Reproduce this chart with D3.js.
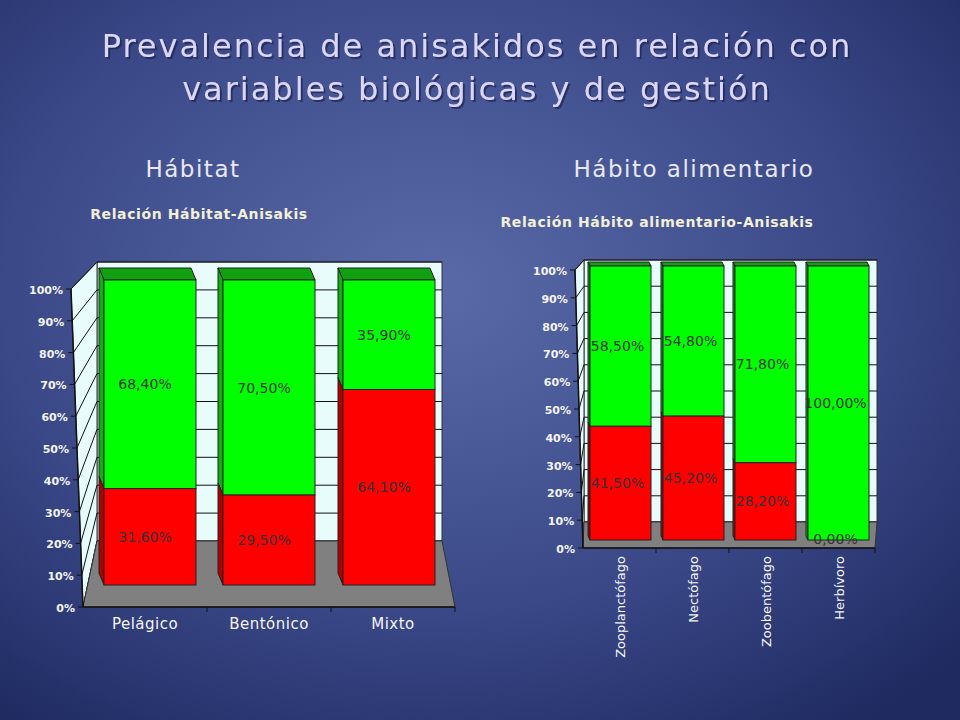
<!DOCTYPE html>
<html><head><meta charset="utf-8">
<script src="https://cdn.jsdelivr.net/npm/d3@7"></script>
<style>body{margin:0;background:#2e3b78}</style></head>
<body><svg id="c" width="960" height="720"></svg>
<script>
const habitatCats = ["Pelágico","Bentónico","Mixto"];
const habitatRed = [31.6, 29.5, 64.1];
const habitatGreen = [68.4, 70.5, 35.9];
const habitoCats = ["Zooplanctófago","Nectófago","Zoobentófago","Herbívoro"];
const habitoRed = [41.5, 45.2, 28.2, 0];
const habitoGreen = [58.5, 54.8, 71.8, 100];
const tickValues = [0,10,20,30,40,50,60,70,80,90,100];

const svg = d3.select("#c");
const defs = svg.append("defs");
const g = defs.append("radialGradient").attr("id","bg").attr("cx","45%").attr("cy","40%").attr("r","75%");
g.append("stop").attr("offset","0%").attr("stop-color","#5a6aa8");
g.append("stop").attr("offset","60%").attr("stop-color","#3a4888");
g.append("stop").attr("offset","100%").attr("stop-color","#1e2a60");
const sh = defs.append("filter").attr("id","sh").attr("x","-5%").attr("y","-20%").attr("width","110%").attr("height","140%");
sh.append("feDropShadow").attr("dx",2).attr("dy",2).attr("stdDeviation",0.5).attr("flood-color","#1a2050").attr("flood-opacity",0.7);
svg.append("rect").attr("width",960).attr("height",720).attr("fill","url(#bg)");

const titleFont = "DejaVu Sans, Verdana, sans-serif";
[["Prevalencia de anisakidos en relación con",57],["variables biológicas y de gestión",100]].forEach(([t,y])=>{
  svg.append("text").attr("x",477).attr("y",y).attr("text-anchor","middle").attr("fill","#dcd6fa").attr("filter","url(#sh)")
    .style("font-family",titleFont).style("font-size","32px").style("letter-spacing","2px").text(t);
});
svg.append("text").attr("x",193).attr("y",177).attr("text-anchor","middle").attr("fill","#e8e8f4")
  .style("font-family",titleFont).style("font-size","23px").style("letter-spacing","1.5px").text("Hábitat");
svg.append("text").attr("x",694).attr("y",177).attr("text-anchor","middle").attr("fill","#e8e8f4")
  .style("font-family",titleFont).style("font-size","23px").style("letter-spacing","1.5px").text("Hábito alimentario");

function chart(o){
  const G = svg.append("g");
  G.append("text").attr("x",o.titleX).attr("y",o.titleY).attr("text-anchor","middle").attr("fill","#f2f0d8")
    .style("font-family","DejaVu Sans, sans-serif").style("font-weight","bold").style("font-size","14px").style("letter-spacing","0.6px").text(o.title);
  const yBack = d3.scaleLinear().domain([0,100]).range([o.backBottom,o.backTop]);
  const yFront = d3.scaleLinear().domain([0,100]).range([o.frontBottom,o.frontTop]);
  const yBar = d3.scaleLinear().domain([0,100]).range([o.barBottom,o.barTop]);
  G.append("rect").attr("x",o.bx0).attr("y",o.backTop).attr("width",o.bx1-o.bx0).attr("height",o.backBottom-o.backTop)
    .attr("fill","#e8fcfc").attr("stroke","#333");
  G.append("path").attr("d",`M${o.fx0},${o.frontBottom}L${o.fx0t},${o.frontTop}L${o.bx0},${o.backTop}L${o.bx0},${o.backBottom}Z`)
    .attr("fill","#e8fcfc").attr("stroke","#333");
  tickValues.forEach(t=>{
    G.append("line").attr("x1",o.bx0).attr("x2",o.bx1).attr("y1",yBack(t)).attr("y2",yBack(t)).attr("stroke","#111");
    const fx = o.fx0 + (o.fx0t-o.fx0)*t/100;
    G.append("line").attr("x1",fx).attr("y1",yFront(t)).attr("x2",o.bx0).attr("y2",yBack(t)).attr("stroke","#111");
    G.append("line").attr("x1",fx-5).attr("y1",yFront(t)).attr("x2",fx).attr("y2",yFront(t)).attr("stroke","#111");
    G.append("text").attr("x",fx-8).attr("y",yFront(t)+5).attr("text-anchor","end").attr("fill","#f4f4f4")
      .style("font-family","DejaVu Sans, sans-serif").style("font-weight","bold").style("font-size","11px").text(t+"%");
  });
  G.append("path").attr("d",`M${o.fx0},${o.frontBottom}L${o.fx1},${o.frontBottom}L${o.bx1},${o.backBottom}L${o.bx0},${o.backBottom}Z`)
    .attr("fill","#808080").attr("stroke","#333");
  G.append("line").attr("x1",o.fx0).attr("x2",o.fx1).attr("y1",o.frontBottom).attr("y2",o.frontBottom).attr("stroke","#111").attr("stroke-width",1.5);
  G.append("line").attr("x1",o.fx0).attr("x2",o.fx0t).attr("y1",o.frontBottom).attr("y2",o.frontTop).attr("stroke","#111").attr("stroke-width",1.5);
  const xs = d3.scaleBand().domain(o.cats).range([o.fx0,o.fx1]);
  o.cats.forEach((c,i)=>{
    const x0 = o.barX[i], w = o.barW;
    const r = o.red[i], gr = o.green[i];
    const yR = yBar(r), yT = yBar(r+gr), yB = yBar(0);
    G.append("path").attr("d",`M${x0},${yT}L${x0-o.dd},${yT-o.dh}L${x0+w-o.dd},${yT-o.dh}L${x0+w},${yT}Z`).attr("fill","#10a010").attr("stroke","#222");
    G.append("path").attr("d",`M${x0},${yT}L${x0-o.dd},${yT-o.dh}L${x0-o.dd},${yR-o.dh}L${x0},${yR}Z`).attr("fill","#10b010").attr("stroke","#222");
    if(r>0) G.append("path").attr("d",`M${x0},${yR}L${x0-o.dd},${yR-o.dh}L${x0-o.dd},${yB-o.dh}L${x0},${yB}Z`).attr("fill","#b00000").attr("stroke","#222");
    G.append("rect").attr("x",x0).attr("y",yT).attr("width",w).attr("height",yR-yT).attr("fill","#00ff00").attr("stroke","#222");
    if(r>0) G.append("rect").attr("x",x0).attr("y",yR).attr("width",w).attr("height",yB-yR).attr("fill","#ff0000").attr("stroke","#222");
    const lx = x0 + w/2 + o.labelDx;
    const fmt = v => v.toFixed(2).replace(".",",")+"%";
    G.append("text").attr("x",lx).attr("y",(yT+yR)/2+5).attr("text-anchor","middle").attr("fill","#333")
      .style("font-family","DejaVu Sans, sans-serif").style("font-size",o.lfs).text(fmt(gr));
    G.append("text").attr("x",lx).attr("y",r>0?(yR+yB)/2+5:yB+4).attr("text-anchor","middle").attr("fill","#333")
      .style("font-family","DejaVu Sans, sans-serif").style("font-size",o.lfs).text(fmt(r));
    const cx = xs(c)+xs.bandwidth()/2;
    G.append("line").attr("x1",xs(c)+xs.bandwidth()).attr("x2",xs(c)+xs.bandwidth()).attr("y1",o.frontBottom).attr("y2",o.frontBottom+5).attr("stroke","#111");
    if(o.rotate){
      G.append("text").attr("transform",`translate(${cx+5},${o.frontBottom+8}) rotate(-90)`).attr("text-anchor","end").attr("fill","#f4f4f4")
        .style("font-family","DejaVu Sans, sans-serif").style("font-size","13px").text(c);
    } else {
      G.append("text").attr("x",cx).attr("y",o.frontBottom+22).attr("text-anchor","middle").attr("fill","#f4f4f4")
        .style("font-family","DejaVu Sans, sans-serif").style("font-size","15px").style("letter-spacing","0.5px").text(c);
    }
  });
}

chart({title:"Relación Hábitat-Anisakis",titleX:199,titleY:219,cats:habitatCats,red:habitatRed,green:habitatGreen,
  bx0:97,bx1:442,backTop:262,backBottom:541,fx0:83,fx0t:71,fx1:455,frontBottom:607,frontTop:289,
  barBottom:585,barTop:280,barX:[104,223,343],barW:92,dd:5,dh:12,labelDx:-5,lfs:"14px",rotate:false});
chart({title:"Relación Hábito alimentario-Anisakis",titleX:657,titleY:227,cats:habitoCats,red:habitoRed,green:habitoGreen,
  bx0:584,bx1:877,backTop:260,backBottom:522,fx0:583,fx0t:575,fx1:875,frontBottom:548,frontTop:270,
  barBottom:540,barTop:266,barX:[590,663,735,808],barW:61,dd:2,dh:4,labelDx:-3,lfs:"14px",rotate:true});
</script></body></html>
